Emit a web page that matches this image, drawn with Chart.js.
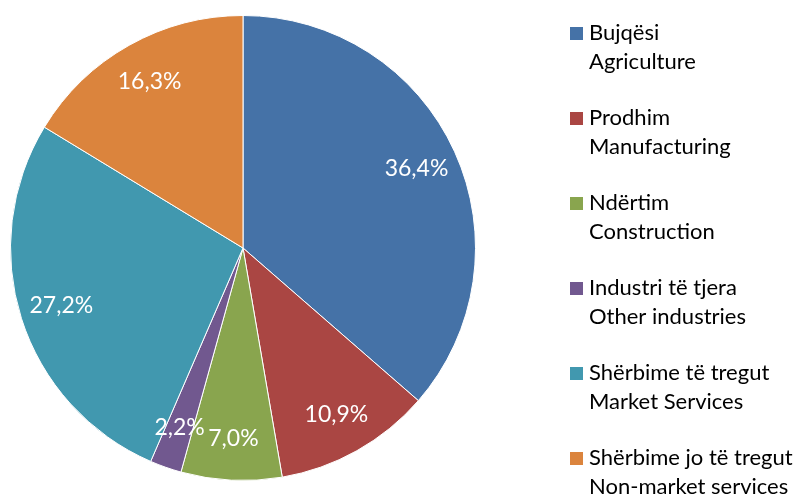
<!DOCTYPE html>
<html>
<head>
<meta charset="utf-8">
<script src="https://cdn.jsdelivr.net/npm/chart.js@4"></script>
<style>
  html, body { margin: 0; padding: 0; background: #fff; }
  #wrap { position: relative; width: 798px; height: 494px; }
</style>
</head>
<body>
<div id="wrap"><canvas id="pieChart" width="798" height="494"></canvas></div>
<script>
// sector names, Albanian / English
var labelsSq = ['Bujqësi', 'Prodhim', 'Ndërtim', 'Industri të tjera', 'Shërbime të tregut', 'Shërbime jo të tregut'];
var labelsEn = ['Agriculture', 'Manufacturing', 'Construction', 'Other industries', 'Market Services', 'Non-market services'];
var shares = [36.4, 10.9, 7.0, 2.2, 27.2, 16.3];
var colors = ['#4572A7', '#AA4643', '#89A54E', '#71588F', '#4198AF', '#DB843D'];

var FONT = 'Lato, "Open Sans", sans-serif';

// percentage labels inside the slices
var sliceLabels = {
  id: 'sliceLabels',
  afterDatasetsDraw: function (chart) {
    var ctx = chart.ctx;
    var meta = chart.getDatasetMeta(0);
    ctx.save();
    ctx.fillStyle = '#ffffff';
    ctx.font = '23px ' + FONT;
    ctx.textAlign = 'center';
    ctx.textBaseline = 'middle';
    meta.data.forEach(function (arc, i) {
      var mid = (arc.startAngle + arc.endAngle) / 2;
      var r = arc.outerRadius * 0.82;
      var x = arc.x + Math.cos(mid) * r;
      var y = arc.y + Math.sin(mid) * r;
      ctx.fillText(shares[i].toFixed(1).replace('.', ',') + '%', x, y);
    });
    ctx.restore();
  }
};

// two-line legend on the right
var sideLegend = {
  id: 'sideLegend',
  afterDraw: function (chart) {
    var ctx = chart.ctx;
    ctx.save();
    ctx.font = '22px ' + FONT;
    ctx.textBaseline = 'middle';
    ctx.textAlign = 'left';
    for (var i = 0; i < labelsSq.length; i++) {
      var y = 33 + i * 85;
      ctx.fillStyle = colors[i];
      ctx.fillRect(570, y - 6, 13, 13);
      ctx.fillStyle = '#000000';
      ctx.fillText(labelsSq[i], 589, y);
      ctx.fillText(labelsEn[i], 589, y + 29);
    }
    ctx.restore();
  }
};

var ctx = document.getElementById('pieChart').getContext('2d');
var pieChart = new Chart(ctx, {
  type: 'pie',
  data: {
    labels: labelsEn,
    datasets: [{
      data: shares,
      backgroundColor: colors,
      borderColor: '#ffffff',
      borderWidth: 1
    }]
  },
  options: {
    responsive: false,
    animation: false,
    layout: { padding: { left: 10, right: 322, top: 15, bottom: 13 } },
    plugins: {
      legend: { display: false },
      tooltip: { enabled: false }
    }
  },
  plugins: [sliceLabels, sideLegend]
});
</script>
</body>
</html>
